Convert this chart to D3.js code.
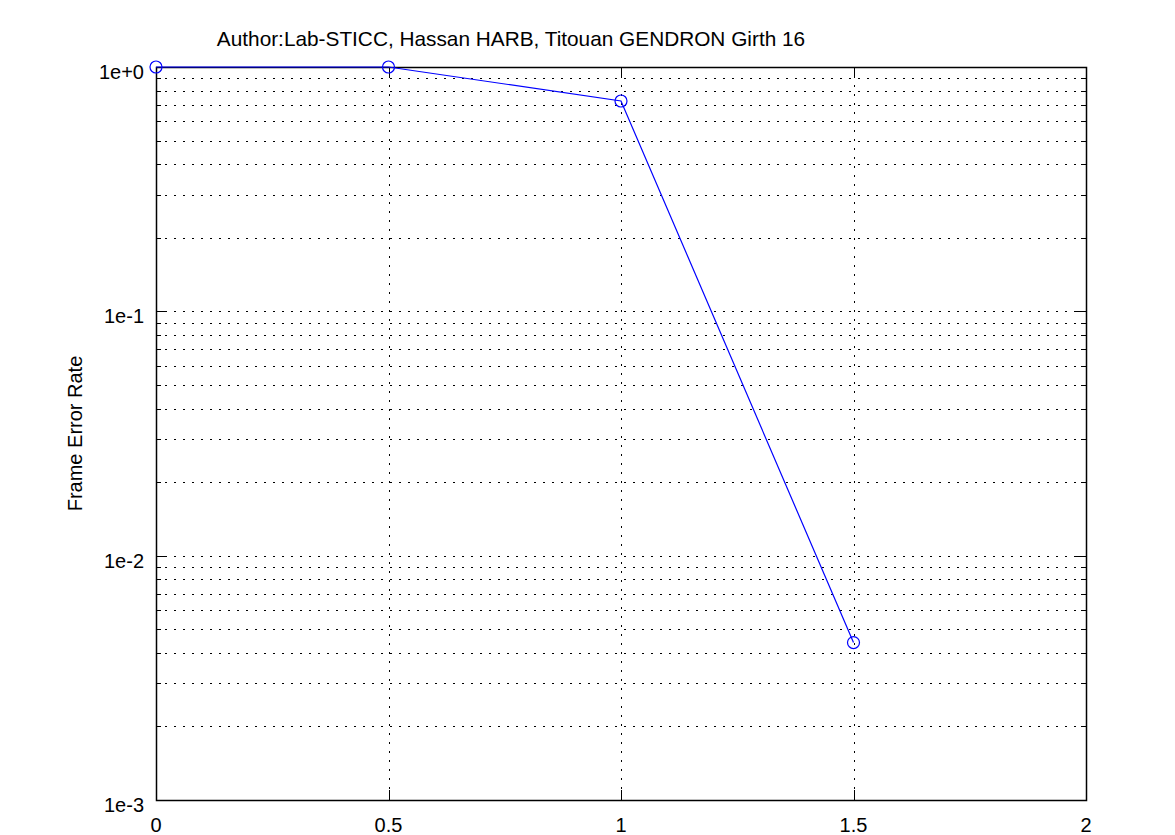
<!DOCTYPE html>
<html>
<head>
<script src="https://d3js.org/d3.v7.min.js"></script>
<style>
  body { margin: 0; background: #fff; }
  text { font-family: "Liberation Sans", Arial, sans-serif; }
</style>
</head>
<body>
<script>
// chart data
var snr = [0, 0.5, 1, 1.5];
var fer = [1, 1, 0.726, 0.00441];
var xTicks = [0, 0.5, 1, 1.5, 2];
var yTicks = [1e-3, 1e-2, 1e-1, 1];
var yTickLabels = ["1e-3", "1e-2", "1e-1", "1e+0"];
var title = "Author:Lab-STICC, Hassan HARB, Titouan GENDRON Girth 16";
var yTitle = "Frame Error Rate";

var width = 1175, height = 835;
var mLeft = 156, mRight = 1086, mTop = 67, mBottom = 800;

var svg = d3.select("body").append("svg")
  .attr("width", width)
  .attr("height", height);

var x = d3.scaleLinear().domain([0, 2]).range([mLeft, mRight]);
var y = d3.scaleLog().domain([1e-3, 1]).range([mBottom, mTop]);

// minor positions 2..9 per decade
var minor = [];
[1e-3, 1e-2, 1e-1].forEach(function(d) {
  for (var k = 2; k <= 9; k++) minor.push(d * k);
});

var grid = svg.append("g")
  .attr("stroke", "#000")
  .attr("stroke-width", 1)
  .attr("stroke-dasharray", "2,7");

grid.selectAll(".hy")
  .data(minor.concat([1e-2, 1e-1]))
  .enter().append("line")
  .attr("x1", mLeft).attr("x2", mRight)
  .attr("y1", function(d) { return Math.round(y(d)) + 0.5; })
  .attr("y2", function(d) { return Math.round(y(d)) + 0.5; });

grid.selectAll(".vx")
  .data(xTicks.slice(1, -1))
  .enter().append("line")
  .attr("y1", mTop).attr("y2", mBottom)
  .attr("x1", function(d) { return Math.round(x(d)) + 0.5; })
  .attr("x2", function(d) { return Math.round(x(d)) + 0.5; });

// tick marks (inward, both sides)
var ticks = svg.append("g").attr("stroke", "#000").attr("stroke-width", 1);
var yTickData = yTicks.map(function(d) { return {v: d, len: 10}; })
  .concat(minor.map(function(d) { return {v: d, len: 5}; }));
yTickData.forEach(function(d) {
  var yy = Math.round(y(d.v)) + 0.5;
  ticks.append("line").attr("x1", mLeft).attr("x2", mLeft + d.len).attr("y1", yy).attr("y2", yy);
  ticks.append("line").attr("x1", mRight - d.len).attr("x2", mRight).attr("y1", yy).attr("y2", yy);
});
xTicks.forEach(function(d) {
  var xx = Math.round(x(d)) + 0.5;
  ticks.append("line").attr("x1", xx).attr("x2", xx).attr("y1", mTop).attr("y2", mTop + 10);
  ticks.append("line").attr("x1", xx).attr("x2", xx).attr("y1", mBottom - 10).attr("y2", mBottom);
});

// box
svg.append("rect")
  .attr("x", mLeft + 0.5).attr("y", mTop + 0.5)
  .attr("width", mRight - mLeft).attr("height", mBottom - mTop)
  .attr("fill", "none").attr("stroke", "#000").attr("stroke-width", 1.5);

// tick labels
svg.selectAll(".yl")
  .data(yTicks)
  .enter().append("text")
  .attr("x", mLeft - 12)
  .attr("y", function(d) { return y(d) + 12; })
  .attr("text-anchor", "end")
  .attr("font-size", 20)
  .text(function(d, i) { return yTickLabels[i]; });

svg.selectAll(".xl")
  .data(xTicks)
  .enter().append("text")
  .attr("x", function(d) { return x(d); })
  .attr("y", mBottom + 32)
  .attr("text-anchor", "middle")
  .attr("font-size", 20)
  .text(function(d) { return d; });

// data line
var pts = snr.map(function(d, i) { return [d, fer[i]]; });
svg.append("path")
  .datum(pts)
  .attr("fill", "none")
  .attr("stroke", "#0000ff")
  .attr("stroke-width", 1.2)
  .attr("d", d3.line().x(function(d) { return x(d[0]); }).y(function(d) { return y(d[1]); }));

svg.selectAll(".pt")
  .data(pts)
  .enter().append("circle")
  .attr("cx", function(d) { return x(d[0]); })
  .attr("cy", function(d) { return y(d[1]); })
  .attr("r", 6)
  .attr("fill", "none")
  .attr("stroke", "#0000ff")
  .attr("stroke-width", 1.2);

// titles
svg.append("text")
  .attr("x", 511).attr("y", 46)
  .attr("text-anchor", "middle")
  .attr("font-size", 20.8)
  .text(title);

svg.append("text")
  .attr("transform", "translate(82," + ((mTop + mBottom) / 2) + ") rotate(-90)")
  .attr("text-anchor", "middle")
  .attr("font-size", 20)
  .text(yTitle);
</script>
</body>
</html>
